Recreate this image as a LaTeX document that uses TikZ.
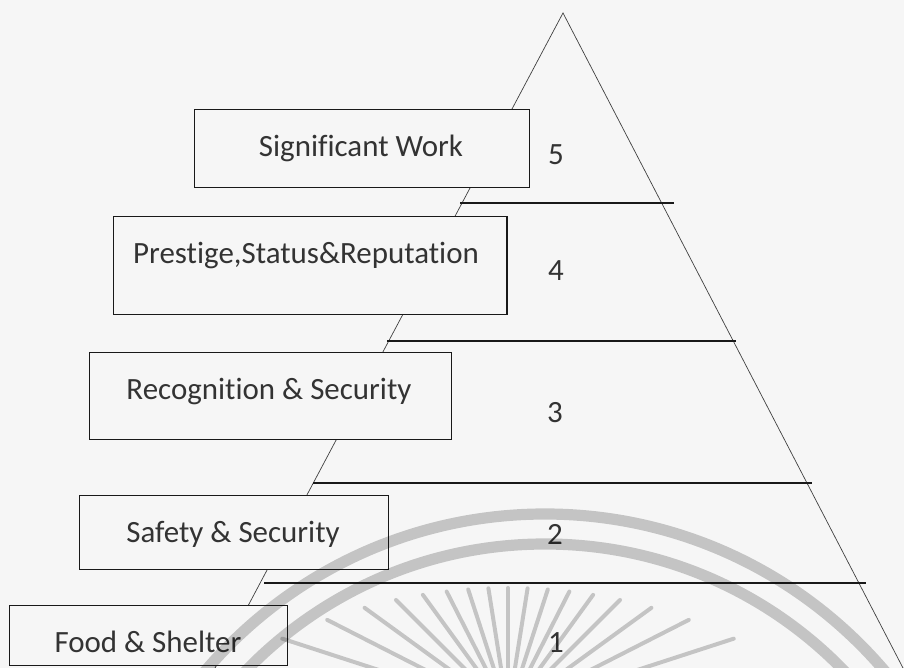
\documentclass[tikz,border=0pt]{standalone}
\usepackage{fontspec}
\setmainfont{Carlito}[Ligatures={NoCommon,NoRare}]
\definecolor{paper}{gray}{0.965}
\definecolor{ink}{gray}{0.2}
\tikzset{
  tier/.style={draw=black!90, line width=1pt, fill=paper, anchor=north west, inner sep=0pt},
  tiertext/.style={text=ink, font=\fontsize{22}{26}\selectfont, anchor=base, inner sep=0pt},
  level/.style={line width=1.8pt, black!90},
  wm/.style={black, opacity=0.2}
}

\begin{document}
\begin{tikzpicture}[x=0.025cm, y=-0.025cm]
\useasboundingbox[fill=paper] (0,0) rectangle (904,668);

% pyramid
\coordinate (apex) at (563,13);
\coordinate (bl) at (215,668);
\coordinate (br) at (903,668);
\draw[line width=0.5pt, black!75] (bl) -- (apex) -- (br);

% levels
\foreach \y/\xa/\xb in {203/460/674, 341/387/736, 483/313/812, 583/264/866}
  \draw[level] (\xa,\y) -- (\xb,\y);

% boxes
\node[tier, minimum width=335*0.25mm, minimum height=78*0.25mm] (b5) at (194,109) {};
\node[tier, minimum width=393*0.25mm, minimum height=98*0.25mm] (b4) at (113,216) {};
\node[tier, minimum width=362*0.25mm, minimum height=87*0.25mm] (b3) at (89,352) {};
\node[tier, minimum width=309*0.25mm, minimum height=74*0.25mm] (b2) at (79,495) {};
\node[tier, minimum width=278*0.25mm, minimum height=60*0.25mm] (b1) at (9,605) {};

\node[tiertext] (t5) at (361,157) {Significant Work};
\node[tiertext] (t4) at (306,264) {Prestige,Status\&Reputation};
\node[tiertext] (t3) at (269,400) {Recognition \& Security};
\node[tiertext] (t2) at (233,543) {Safety \& Security};
\node[tiertext] (t1) at (148,653) {Food \& Shelter};

% level numbers
\node[tiertext] (n5) at (556,165) {5};
\node[tiertext] (n4) at (556,281) {4};
\node[tiertext] (n3) at (555,423) {3};
\node[tiertext] (n2) at (555,545) {2};
\node[tiertext] (n1) at (556,653) {1};

% watermark
\begin{scope}
  \clip (0,0) rectangle (904,668);
  \draw[wm, line width=2.8mm] (545,960) circle[radius=446];
  \draw[wm, line width=2.8mm] (545,960) circle[radius=416];
  \foreach \a [evaluate=\a as \t using {10*(-40.4*sin(\a)+sqrt(1632.16*sin(\a)^2+1156))}] in {18,27,...,162}
    \draw[wm, line width=1mm, line cap=round] (508,712) ++({\t*cos(\a)},{-\t*sin(\a)}) -- (508,712);
\end{scope}
\end{tikzpicture}
\end{document}
